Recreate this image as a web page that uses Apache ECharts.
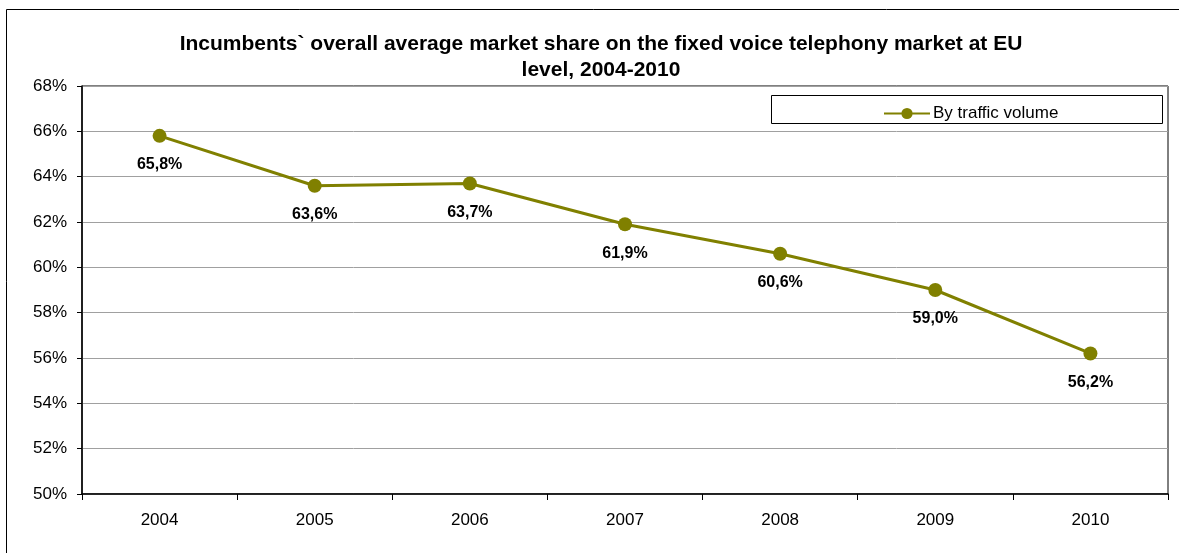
<!DOCTYPE html>
<html>
<head>
<meta charset="utf-8">
<script src="https://cdn.jsdelivr.net/npm/echarts@6/dist/echarts.min.js"></script>
<style>
  html, body { margin: 0; padding: 0; background: #fff; }
  #chart { width: 1179px; height: 553px; }
</style>
</head>
<body>
<div id="chart"></div>
<script>
// Incumbents' average share of the fixed voice telephony market, EU level
const years = ['2004', '2005', '2006', '2007', '2008', '2009', '2010'];
const trafficShare = [65.8, 63.6, 63.7, 61.9, 60.6, 59.0, 56.2];
const seriesName = 'By traffic volume';
const titleText = 'Incumbents` overall average market share on the fixed voice telephony market at EU\nlevel, 2004-2010';

const FONT = 'Liberation Sans, Arial, sans-serif';
const OLIVE = '#808000';

const chart = echarts.init(document.getElementById('chart'), null, { renderer: 'canvas' });

chart.setOption({
  backgroundColor: '#ffffff',
  animation: false,
  title: {
    text: titleText,
    left: 596,
    textAlign: 'center',
    top: 26,
    textStyle: {
      fontFamily: FONT,
      fontSize: 21,
      fontWeight: 'bold',
      color: '#000',
      lineHeight: 26
    }
  },
  graphic: [
    {
      // outer chart frame
      type: 'rect',
      shape: { x: 6.5, y: 9.5, width: 1200, height: 600 },
      style: { fill: 'none', stroke: '#000', lineWidth: 1 },
      z: 0
    },
    {
      // legend frame
      type: 'rect',
      shape: { x: 771.5, y: 95.5, width: 391, height: 28 },
      style: { fill: '#fff', stroke: '#000', lineWidth: 1 },
      z: 5
    }
  ],
  legend: {
    left: 878,
    top: 100,
    itemWidth: 46,
    itemHeight: 14,
    itemGap: 4,
    z: 10,
    data: [seriesName],
    textStyle: { fontFamily: FONT, fontSize: 17, color: '#000', padding: [0, 0, 0, -2] }
  },
  grid: {
    left: 82,
    right: 11,
    top: 86,
    bottom: 59,
    show: true,
    borderColor: '#000',
    borderWidth: 1,
    containLabel: false
  },
  xAxis: {
    type: 'category',
    data: years,
    boundaryGap: true,
    axisLine: { lineStyle: { color: '#000', width: 1.5 } },
    axisTick: { show: true, alignWithLabel: false, length: 6, lineStyle: { color: '#000' } },
    axisLabel: { fontFamily: FONT, fontSize: 17, color: '#000', margin: 18 },
    splitLine: { show: false }
  },
  yAxis: {
    type: 'value',
    min: 50,
    max: 68,
    interval: 2,
    axisLine: { show: true, lineStyle: { color: '#000', width: 1.5 } },
    axisTick: { show: true, length: 5, lineStyle: { color: '#000' } },
    axisLabel: {
      fontFamily: FONT, fontSize: 17, color: '#000', margin: 15,
      formatter: v => v + '%'
    },
    splitLine: { show: true, lineStyle: { color: '#a0a0a0', width: 1 } }
  },
  series: [{
    name: seriesName,
    type: 'line',
    data: trafficShare,
    symbol: 'circle',
    symbolSize: 14,
    lineStyle: { color: OLIVE, width: 3 },
    itemStyle: { color: OLIVE },
    label: {
      show: true,
      position: 'bottom',
      distance: 14,
      fontFamily: FONT,
      fontSize: 16,
      fontWeight: 'bold',
      color: '#000',
      formatter: p => p.value.toFixed(1).replace('.', ',') + '%'
    },
    z: 3
  }]
});
</script>
</body>
</html>
